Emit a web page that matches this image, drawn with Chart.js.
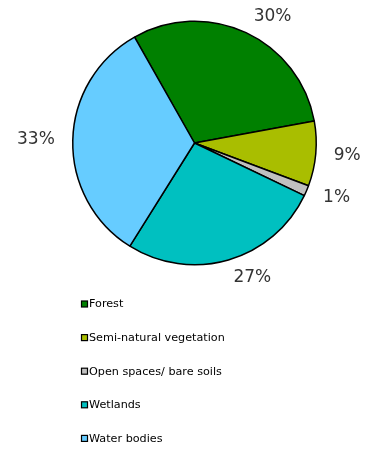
<!DOCTYPE html>
<html>
<head>
<meta charset="utf-8">
<script src="https://cdn.jsdelivr.net/npm/chart.js@4/dist/chart.umd.min.js"></script>
<style>
  html, body { margin: 0; padding: 0; background: #fff; }
  #pie { display: block; }
</style>
</head>
<body>
<canvas id="pie" width="369" height="449"></canvas>
<script>
const categories = ['Forest', 'Semi-natural vegetation', 'Open spaces/ bare soils', 'Wetlands', 'Water bodies'];
const shares = [30.3, 8.6, 1.4, 26.8, 32.9];
const colors = ['#008000', '#a9be00', '#c0c0c0', '#00c0c0', '#66ccff'];

// percentage labels outside the slices, placed along each slice's mid angle
const outsideLabels = {
  id: 'outsideLabels',
  afterDatasetsDraw(chart) {
    const ctx = chart.ctx;
    const meta = chart.getDatasetMeta(0);
    const total = shares.reduce((a, b) => a + b, 0);
    ctx.save();
    ctx.font = '17px "DejaVu Sans", Verdana, sans-serif';
    ctx.fillStyle = '#333';
    ctx.textBaseline = 'middle';
    meta.data.forEach((arc, i) => {
      const p = arc.getProps(['x', 'y', 'startAngle', 'endAngle', 'outerRadius'], true);
      const mid = (p.startAngle + p.endAngle) / 2;
      const r = p.outerRadius + 18;
      const cos = Math.cos(mid), sin = Math.sin(mid);
      ctx.textAlign = cos > 0.2 ? 'left' : cos < -0.2 ? 'right' : 'center';
      ctx.fillText(Math.round(shares[i] / total * 100) + '%', p.x + r * cos, p.y + r * sin);
    });
    ctx.restore();
  }
};

// legend listed under the pie
const legendList = {
  id: 'legendList',
  afterDraw(chart) {
    const ctx = chart.ctx;
    ctx.save();
    ctx.font = '11.2px "DejaVu Sans", Verdana, sans-serif';
    ctx.textBaseline = 'middle';
    ctx.textAlign = 'left';
    chart.data.labels.forEach((lab, i) => {
      const y = 304 + i * 33.6;
      ctx.fillStyle = colors[i];
      ctx.fillRect(81.5, y - 3, 6, 6);
      ctx.strokeStyle = '#000';
      ctx.lineWidth = 1.2;
      ctx.strokeRect(81.5, y - 3, 6, 6);
      ctx.fillStyle = '#000';
      ctx.fillText(lab, 89, y + 0.5);
    });
    ctx.restore();
  }
};

new Chart(document.getElementById('pie').getContext('2d'), {
  type: 'pie',
  data: {
    labels: categories,
    datasets: [{
      data: shares,
      backgroundColor: colors,
      borderColor: '#000',
      borderWidth: 1.5
    }]
  },
  options: {
    responsive: false,
    animation: false,
    rotation: -29.5,
    layout: { padding: { left: 72, right: 52, top: 20, bottom: 183 } },
    plugins: {
      legend: { display: false },
      tooltip: { enabled: false }
    }
  },
  plugins: [outsideLabels, legendList]
});
</script>
</body>
</html>
